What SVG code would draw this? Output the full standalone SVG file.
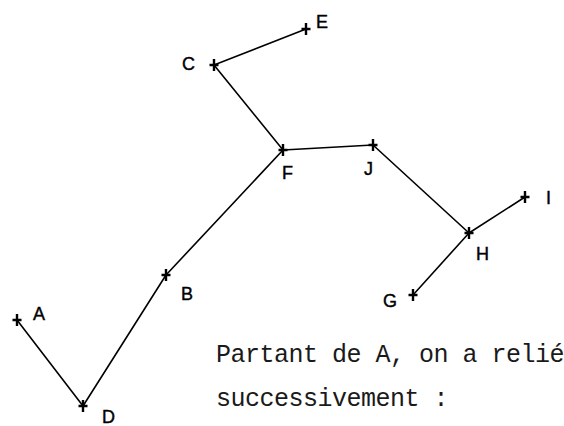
<svg xmlns="http://www.w3.org/2000/svg" xmlns:xlink="http://www.w3.org/1999/xlink" width="564" height="426" viewBox="0 0 564 426">
<style>
.edge{stroke:#000;stroke-width:1.6;fill:none;stroke-linecap:round}
.cross{stroke:#000;stroke-width:2.4;fill:none}
.lbl{font-family:"Liberation Sans","DejaVu Sans",sans-serif;font-size:18px;fill:#000;stroke:#000;stroke-width:0.4}
.txt{font-family:"Liberation Mono","Courier New",monospace;font-size:25px;letter-spacing:-0.5px;fill:#1a1a1a}
</style>
<defs>
<path id="x" class="cross" d="M-4.5 0H4.5M0 -6V6"/>
</defs>
<rect width="564" height="426" fill="#fff"/>
<g id="connectors">
<line class="edge" x1="214" y1="65" x2="306" y2="29"/>
<line class="edge" x1="214" y1="65" x2="283" y2="150"/>
<line class="edge" x1="283" y1="150" x2="373" y2="145"/>
<line class="edge" x1="373" y1="145" x2="469" y2="233"/>
<line class="edge" x1="469" y1="233" x2="525" y2="197"/>
<line class="edge" x1="469" y1="233" x2="413" y2="295"/>
<line class="edge" x1="283" y1="150" x2="166" y2="275"/>
<line class="edge" x1="166" y1="275" x2="83" y2="406"/>
<line class="edge" x1="83" y1="406" x2="17" y2="320"/>
</g>
<g id="A"><use xlink:href="#x" x="17" y="320"/><text class="lbl" x="33" y="320">A</text></g>
<g id="B"><use xlink:href="#x" x="166" y="275"/><text class="lbl" x="181" y="300">B</text></g>
<g id="C"><use xlink:href="#x" x="214" y="65"/><text class="lbl" x="182" y="70">C</text></g>
<g id="D"><use xlink:href="#x" x="83" y="406"/><text class="lbl" x="102" y="423">D</text></g>
<g id="E"><use xlink:href="#x" x="306" y="29"/><text class="lbl" x="316" y="28">E</text></g>
<g id="F"><use xlink:href="#x" x="283" y="150"/><text class="lbl" x="282" y="179">F</text></g>
<g id="G"><use xlink:href="#x" x="413" y="295"/><text class="lbl" x="383" y="307">G</text></g>
<g id="H"><use xlink:href="#x" x="469" y="233"/><text class="lbl" x="476" y="260">H</text></g>
<g id="I"><use xlink:href="#x" x="525" y="197"/><text class="lbl" x="546" y="204">I</text></g>
<g id="J"><use xlink:href="#x" x="373" y="145"/><text class="lbl" x="364" y="175">J</text></g>
<text class="txt" x="216" y="362">Partant de A, on a relié</text>
<text class="txt" x="216" y="406">successivement :</text>
</svg>
